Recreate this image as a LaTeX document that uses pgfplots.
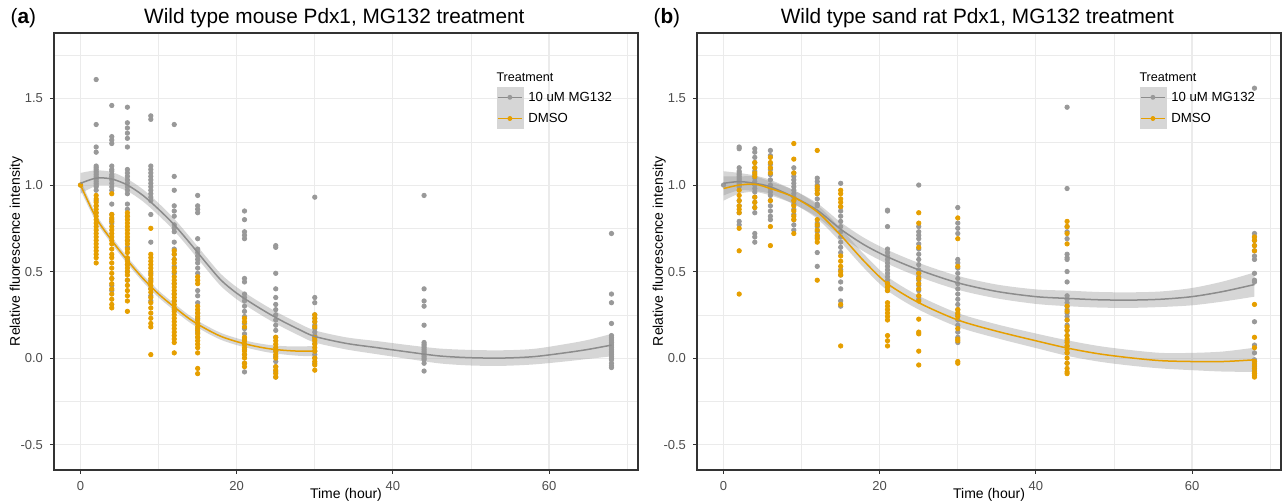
\documentclass[border=0pt]{standalone}
\usepackage{fontspec}
\setmainfont{Liberation Sans}
\usepackage{pgfplots}
\usepackage{pgfplotstable}
\pgfplotsset{compat=1.18}
\usepgfplotslibrary{fillbetween}

\definecolor{mgpt}{HTML}{999999}
\definecolor{mgline}{HTML}{8C8C8C}
\definecolor{dmso}{HTML}{E69F00}
\definecolor{gridc}{HTML}{EBEBEB}
\definecolor{framec}{HTML}{333333}
\definecolor{tickc}{HTML}{4D4D4D}
\definecolor{keybg}{HTML}{D6D6D6}

% smoothed fits with confidence band
\pgfplotstableread{
t m lo hi
0 1.01 0.95 1.07
2 1.04 0.995 1.085
4 1.035 0.995 1.075
6 1.0 0.965 1.035
8 0.94 0.905 0.975
10 0.86 0.825 0.895
12 0.77 0.735 0.805
14 0.665 0.63 0.70
16 0.555 0.52 0.59
18 0.45 0.415 0.485
20 0.375 0.34 0.41
22 0.315 0.28 0.35
24 0.26 0.225 0.295
26 0.21 0.175 0.245
28 0.165 0.13 0.20
30 0.125 0.09 0.16
34 0.085 0.05 0.12
38 0.06 0.022 0.098
42 0.035 -0.005 0.075
46 0.012 -0.031 0.055
50 0.002 -0.043 0.047
54 0.0 -0.045 0.045
58 0.008 -0.037 0.053
62 0.03 -0.02 0.08
65 0.05 -0.005 0.105
68 0.075 0.01 0.14
}\fitAmg
\pgfplotstableread{
t m lo hi
0 1.0 0.97 1.03
2 0.81 0.788 0.832
4 0.68 0.66 0.70
6 0.565 0.545 0.585
8 0.46 0.44 0.48
10 0.37 0.35 0.39
12 0.295 0.275 0.315
14 0.225 0.205 0.245
16 0.17 0.15 0.19
18 0.125 0.105 0.145
20 0.095 0.075 0.115
22 0.072 0.052 0.092
24 0.055 0.033 0.077
26 0.045 0.021 0.069
28 0.04 0.013 0.067
30 0.04 0.01 0.07
}\fitAdm
\pgfplotstableread{
t m lo hi
0 1.01 0.94 1.08
2 1.02 0.97 1.07
4 1.01 0.965 1.055
6 0.99 0.95 1.03
9 0.93 0.89 0.97
12 0.855 0.815 0.895
15 0.745 0.705 0.785
18 0.655 0.615 0.695
21 0.585 0.545 0.625
25 0.51 0.47 0.55
30 0.435 0.395 0.475
35 0.385 0.345 0.425
40 0.355 0.313 0.397
44 0.345 0.30 0.39
48 0.337 0.292 0.382
52 0.335 0.29 0.38
56 0.34 0.295 0.385
60 0.355 0.305 0.405
64 0.385 0.327 0.443
68 0.425 0.355 0.495
}\fitBmg
\pgfplotstableread{
t m lo hi
0 0.98 0.91 1.05
2 1.0 0.95 1.05
4 1.005 0.96 1.05
6 0.98 0.94 1.02
9 0.93 0.89 0.97
12 0.845 0.805 0.885
15 0.71 0.67 0.75
18 0.56 0.52 0.60
21 0.43 0.39 0.47
25 0.32 0.28 0.36
30 0.22 0.18 0.26
35 0.155 0.115 0.195
40 0.10 0.058 0.142
44 0.058 0.013 0.103
48 0.025 -0.02 0.07
52 0.002 -0.043 0.047
56 -0.015 -0.06 0.03
60 -0.02 -0.07 0.03
64 -0.02 -0.078 0.038
68 -0.01 -0.08 0.06
}\fitBdm

\pgfplotsset{
  ggpanel/.style={
    width=292pt, height=218.5pt, scale only axis, clip mode=individual,
    xmin=-3.4, xmax=71.4, ymin=-0.647, ymax=1.879,
    xtick={0,20,40,60}, xticklabels={0,20,40,60},
    ytick={-0.5,0,0.5,1,1.5}, yticklabels={-0.5,0.0,0.5,1.0,1.5},
    minor xtick={10,30,50,70}, minor ytick={-0.25,0.25,0.75,1.25,1.75},
    grid=both,
    major grid style={gridc, line width=0.55pt},
    minor grid style={gridc, line width=0.3pt},
    axis line style={framec, line width=0.55pt},
    tick style={framec, line width=0.5pt},
    major tick length=2pt, minor tick length=0pt,
    tick align=outside, xtick pos=bottom, ytick pos=left,
    ticklabel style={font=\fontsize{6.5}{7}\selectfont, text=tickc},
    label style={font=\fontsize{7}{8}\selectfont},
    xlabel={Time (hour)}, ylabel={Relative fluorescence intensity},
    xlabel style={at={(0.5,0)}, anchor=base, yshift=-14.5pt},
    ylabel shift=-8pt,
    title style={font=\fontsize{10.4}{12}\selectfont, at={(0.48,1)}, anchor=base, yshift=-1.5pt},
    legend cell align=left,
    legend style={at={(0.757,0.878)}, anchor=north west, draw=none, fill=none,
      font=\fontsize{6.6}{8}\selectfont, row sep=0pt, inner sep=0pt,
      nodes={inner sep=1pt, text height=6pt, text depth=2pt},
      /tikz/every odd column/.append style={column sep=1.5pt}},
  },
  mgpts/.style={only marks, mark=*, mark size=1.1pt, mgpt, forget plot},
  dmpts/.style={only marks, mark=*, mark size=1.1pt, dmso, forget plot},
  band/.style={fill=mgpt, fill opacity=0.4, draw=none, forget plot},
  mgkey/.style={legend image code/.code={
      \fill[keybg] (0pt,-5.1pt) rectangle (13pt,5.1pt);
      \draw[mgline, line width=0.7pt] (0.5pt,0pt) -- (12.5pt,0pt);
      \fill[mgpt] (6.5pt,0pt) circle (1pt);}},
  dmkey/.style={legend image code/.code={
      \fill[keybg] (0pt,-5.1pt) rectangle (13pt,5.1pt);
      \draw[dmso, line width=0.7pt] (0.5pt,0pt) -- (12.5pt,0pt);
      \fill[dmso] (6.5pt,0pt) circle (1pt);}},
}

\begin{document}
\begin{tikzpicture}

% ---------------- (a) mouse ----------------
\begin{axis}[ggpanel, at={(0pt,0pt)}, title={Wild type mouse Pdx1, MG132 treatment}]
\addplot[mgpts] coordinates {
(0,1.0)
(2,1.61)(2,1.35)(2,1.22)(2,1.19)(2,1.11)(2,1.10)(2,1.09)(2,1.08)(2,1.07)(2,1.06)(2,1.05)(2,1.04)(2,1.03)(2,1.02)(2,1.01)(2,1.00)(2,0.99)(2,0.97)(2,0.91)(2,0.88)(2,0.84)
(4,1.46)(4,1.28)(4,1.26)(4,1.24)(4,1.11)(4,1.09)(4,1.08)(4,1.06)(4,1.05)(4,1.04)(4,1.03)(4,1.01)(4,0.99)(4,0.97)(4,0.89)(4,0.83)(4,0.80)(4,0.78)(4,0.46)(4,0.42)(4,0.39)
(6,1.45)(6,1.36)(6,1.33)(6,1.30)(6,1.27)(6,1.22)(6,1.09)(6,1.07)(6,1.05)(6,1.03)(6,1.01)(6,0.99)(6,0.97)(6,0.95)(6,0.89)(6,0.86)(6,0.82)(6,0.68)(6,0.64)(6,0.57)(6,0.54)(6,0.50)(6,0.45)
(9,1.40)(9,1.38)(9,1.11)(9,1.09)(9,1.07)(9,1.05)(9,1.03)(9,1.01)(9,0.99)(9,0.97)(9,0.95)(9,0.93)(9,0.91)(9,0.83)(9,0.67)(9,0.49)(9,0.45)(9,0.40)(9,0.36)(9,0.33)
(12,1.35)(12,1.05)(12,0.97)(12,0.88)(12,0.85)(12,0.82)(12,0.77)(12,0.75)(12,0.73)(12,0.67)(12,0.63)(12,0.60)(12,0.57)(12,0.53)(12,0.49)(12,0.43)(12,0.37)(12,0.33)(12,0.28)
(15,0.94)(15,0.88)(15,0.86)(15,0.84)(15,0.69)(15,0.63)(15,0.61)(15,0.59)(15,0.57)(15,0.55)(15,0.52)(15,0.49)(15,0.39)(15,0.36)(15,0.32)(15,0.26)(15,0.23)(15,0.20)(15,0.17)(15,0.15)(15,0.12)
(21,0.85)(21,0.80)(21,0.73)(21,0.71)(21,0.69)(21,0.46)(21,0.44)(21,0.37)(21,0.35)(21,0.33)(21,0.30)(21,0.27)(21,0.24)(21,0.20)(21,0.17)(21,0.14)(21,0.11)(21,0.08)(21,0.05)(21,0.02)(21,-0.03)(21,-0.08)
(25,0.65)(25,0.64)(25,0.49)(25,0.40)(25,0.35)(25,0.31)(25,0.28)(25,0.25)(25,0.22)(25,0.19)(25,0.16)(25,0.12)(25,0.04)(25,0.01)(25,-0.02)(25,-0.05)(25,-0.08)(25,-0.11)
(30,0.93)(30,0.35)(30,0.32)(30,0.25)(30,0.23)(30,0.21)(30,0.19)(30,0.17)(30,0.15)(30,0.13)(30,0.11)(30,0.085)(30,0.04)(30,0.02)(30,0.0)(30,-0.03)
(44,0.94)(44,0.40)(44,0.33)(44,0.30)(44,0.19)(44,0.09)(44,0.08)(44,0.07)(44,0.06)(44,0.05)(44,0.04)(44,0.03)(44,0.02)(44,0.01)(44,0.0)(44,-0.01)(44,-0.03)(44,-0.075)
(68,0.72)(68,0.37)(68,0.32)(68,0.20)(68,0.13)(68,0.12)(68,0.11)(68,0.10)(68,0.09)(68,0.08)(68,0.07)(68,0.06)(68,0.05)(68,0.04)(68,0.03)(68,0.02)(68,0.01)(68,0.0)(68,-0.01)(68,-0.03)(68,-0.045)(68,-0.055)
};
\addplot[dmpts] coordinates {
(0,1.0)
(2,0.94)(2,0.92)(2,0.90)(2,0.88)(2,0.86)(2,0.84)(2,0.82)(2,0.80)(2,0.78)(2,0.76)(2,0.74)(2,0.72)(2,0.70)(2,0.68)(2,0.66)(2,0.64)(2,0.62)(2,0.60)(2,0.58)(2,0.55)
(4,0.95)(4,0.83)(4,0.81)(4,0.79)(4,0.76)(4,0.74)(4,0.72)(4,0.70)(4,0.68)(4,0.66)(4,0.63)(4,0.60)(4,0.58)(4,0.55)(4,0.52)(4,0.49)(4,0.46)(4,0.43)(4,0.40)(4,0.37)(4,0.34)(4,0.31)(4,0.29)
(6,0.84)(6,0.82)(6,0.80)(6,0.78)(6,0.76)(6,0.74)(6,0.72)(6,0.70)(6,0.68)(6,0.66)(6,0.63)(6,0.61)(6,0.58)(6,0.56)(6,0.54)(6,0.52)(6,0.50)(6,0.48)(6,0.45)(6,0.42)(6,0.39)(6,0.36)(6,0.33)(6,0.27)
(9,0.75)(9,0.60)(9,0.58)(9,0.56)(9,0.54)(9,0.52)(9,0.50)(9,0.48)(9,0.46)(9,0.44)(9,0.42)(9,0.40)(9,0.38)(9,0.35)(9,0.32)(9,0.29)(9,0.26)(9,0.23)(9,0.20)(9,0.18)(9,0.02)
(12,0.62)(12,0.60)(12,0.57)(12,0.55)(12,0.52)(12,0.50)(12,0.47)(12,0.45)(12,0.43)(12,0.41)(12,0.39)(12,0.37)(12,0.35)(12,0.33)(12,0.31)(12,0.29)(12,0.27)(12,0.25)(12,0.23)(12,0.21)(12,0.19)(12,0.17)(12,0.15)(12,0.13)(12,0.11)(12,0.09)(12,0.03)
(15,0.47)(15,0.45)(15,0.43)(15,0.30)(15,0.28)(15,0.26)(15,0.24)(15,0.22)(15,0.20)(15,0.18)(15,0.16)(15,0.14)(15,0.12)(15,0.10)(15,0.08)(15,0.06)(15,0.03)(15,-0.06)(15,-0.09)
(21,0.23)(21,0.21)(21,0.18)(21,0.12)(21,0.10)(21,0.08)(21,0.06)(21,0.04)(21,0.02)(21,0.0)(21,-0.03)(21,-0.05)
(25,0.12)(25,0.10)(25,0.08)(25,0.06)(25,0.04)(25,0.02)(25,0.0)(25,-0.05)(25,-0.07)(25,-0.09)(25,-0.11)
(30,0.25)(30,0.23)(30,0.21)(30,0.18)(30,0.12)(30,0.10)(30,0.08)(30,0.06)(30,0.04)(30,0.0)(30,-0.02)(30,-0.04)(30,-0.07)
};
\addplot[draw=none, smooth, name path=aMu, forget plot] table[x=t, y=hi] {\fitAmg};
\addplot[draw=none, smooth, name path=aMl, forget plot] table[x=t, y=lo] {\fitAmg};
\addplot[band] fill between[of=aMu and aMl];
\addplot[mgline, line width=0.75pt, smooth, forget plot] table[x=t, y=m] {\fitAmg};
\addplot[draw=none, smooth, name path=aDu, forget plot] table[x=t, y=hi] {\fitAdm};
\addplot[draw=none, smooth, name path=aDl, forget plot] table[x=t, y=lo] {\fitAdm};
\addplot[band] fill between[of=aDu and aDl];
\addplot[dmso, line width=0.75pt, smooth, forget plot] table[x=t, y=m] {\fitAdm};
\addlegendimage{mgkey}\addlegendentry{10 uM MG132}
\addlegendimage{dmkey}\addlegendentry{DMSO}
\node[anchor=west, inner sep=0pt, font=\fontsize{6.3}{7}\selectfont] at (axis description cs:0.757,0.899) {Treatment};
\node[anchor=base west, inner sep=0pt, font=\fontsize{10.4}{12}\selectfont] at (axis description cs:-0.075,1) [yshift=4.5pt] {(\textbf{a})};
\end{axis}

% ---------------- (b) sand rat ----------------
\begin{axis}[ggpanel, at={(321.5pt,0pt)}, title={Wild type sand rat Pdx1, MG132 treatment}]
\addplot[mgpts] coordinates {
(0,1.0)
(2,1.22)(2,1.21)(2,1.10)(2,1.08)(2,1.07)(2,1.06)(2,1.05)(2,1.04)(2,1.03)(2,1.02)(2,1.01)(2,1.00)(2,0.99)(2,0.91)(2,0.88)(2,0.84)(2,0.79)(2,0.77)
(4,1.21)(4,1.19)(4,1.16)(4,1.13)(4,1.10)(4,1.08)(4,1.06)(4,1.04)(4,1.02)(4,1.00)(4,0.98)(4,0.96)(4,0.93)(4,0.90)(4,0.87)(4,0.84)(4,0.72)(4,0.70)(4,0.67)
(6,1.20)(6,1.17)(6,1.12)(6,1.09)(6,1.06)(6,1.03)(6,1.00)(6,0.98)(6,0.96)(6,0.94)(6,0.91)(6,0.88)(6,0.85)(6,0.82)(6,0.80)
(9,1.10)(9,1.07)(9,1.05)(9,1.03)(9,1.01)(9,0.99)(9,0.97)(9,0.95)(9,0.93)(9,0.91)(9,0.89)(9,0.86)(9,0.83)(9,0.80)(9,0.77)(9,0.74)
(12,1.04)(12,1.02)(12,1.00)(12,0.98)(12,0.95)(12,0.92)(12,0.89)(12,0.88)(12,0.78)(12,0.76)(12,0.73)(12,0.70)(12,0.61)(12,0.53)
(15,1.01)(15,0.875)(15,0.85)(15,0.82)(15,0.79)(15,0.76)(15,0.73)(15,0.70)(15,0.67)(15,0.64)(15,0.61)(15,0.51)(15,0.48)(15,0.44)(15,0.40)(15,0.33)(15,0.30)
(21,0.855)(21,0.85)(21,0.76)(21,0.63)(21,0.61)(21,0.59)(21,0.57)(21,0.55)(21,0.53)(21,0.51)(21,0.49)(21,0.47)(21,0.45)(21,0.43)(21,0.41)(21,0.39)
(25,1.0)(25,0.76)(25,0.73)(25,0.71)(25,0.69)(25,0.66)(25,0.63)(25,0.60)(25,0.57)(25,0.54)(25,0.51)(25,0.49)(25,0.47)(25,0.45)(25,0.42)(25,0.39)(25,0.36)(25,0.34)
(30,0.87)(30,0.78)(30,0.75)(30,0.72)(30,0.57)(30,0.55)(30,0.52)(30,0.49)(30,0.46)(30,0.43)(30,0.40)(30,0.37)(30,0.34)(30,0.31)(30,0.28)(30,0.25)(30,0.22)(30,0.19)(30,0.15)(30,0.12)(30,0.09)
(44,1.45)(44,0.98)(44,0.76)(44,0.73)(44,0.69)(44,0.60)(44,0.58)(44,0.57)(44,0.50)(44,0.44)(44,0.36)(44,0.34)(44,0.32)(44,0.30)(44,0.28)(44,0.26)(44,0.24)(44,0.22)(44,0.19)(44,0.16)(44,0.13)(44,0.10)(44,0.07)(44,0.03)(44,-0.03)
(68,1.56)(68,0.72)(68,0.70)(68,0.68)(68,0.65)(68,0.62)(68,0.59)(68,0.57)(68,0.49)(68,0.45)(68,0.44)(68,0.21)(68,0.075)(68,0.03)(68,-0.01)(68,-0.03)(68,-0.05)(68,-0.07)(68,-0.09)
};
\addplot[dmpts] coordinates {
(2,0.97)(2,0.94)(2,0.91)(2,0.88)(2,0.86)(2,0.84)(2,0.75)(2,0.62)(2,0.37)
(4,1.13)(4,1.10)(4,1.07)(4,1.05)(4,0.93)(4,0.90)(4,0.87)
(6,1.16)(6,1.13)(6,1.10)(6,1.07)(6,0.91)(6,0.76)(6,0.65)
(9,1.24)(9,1.15)(9,1.07)(9,0.91)(9,0.88)(9,0.85)(9,0.82)(9,0.80)(9,0.72)
(12,1.20)(12,0.99)(12,0.97)(12,0.95)(12,0.80)(12,0.77)(12,0.74)(12,0.71)(12,0.69)(12,0.67)(12,0.45)
(15,0.97)(15,0.95)(15,0.92)(15,0.90)(15,0.875)(15,0.59)(15,0.56)(15,0.53)(15,0.50)(15,0.48)(15,0.31)(15,0.07)
(21,0.43)(21,0.41)(21,0.39)(21,0.32)(21,0.30)(21,0.28)(21,0.26)(21,0.24)(21,0.22)(21,0.13)(21,0.10)(21,0.07)
(25,0.84)(25,0.78)(25,0.64)(25,0.49)(25,0.46)(25,0.43)(25,0.40)(25,0.36)(25,0.33)(25,0.225)(25,0.15)(25,0.14)(25,0.04)(25,-0.04)
(30,0.81)(30,0.69)(30,0.53)(30,0.28)(30,0.26)(30,0.24)(30,0.17)(30,0.11)(30,0.10)(30,-0.02)(30,-0.03)
(44,0.79)(44,0.76)(44,0.72)(44,0.66)(44,0.30)(44,0.27)(44,0.22)(44,0.18)(44,0.16)(44,0.13)(44,0.11)(44,0.09)(44,0.07)(44,0.05)(44,0.03)(44,0.0)(44,-0.03)(44,-0.06)(44,-0.08)(44,-0.09)
(68,0.70)(68,0.68)(68,0.65)(68,0.62)(68,0.31)(68,0.12)(68,0.06)(68,-0.02)(68,-0.04)(68,-0.06)(68,-0.08)(68,-0.09)(68,-0.10)(68,-0.11)
};
\addplot[draw=none, smooth, name path=bMu, forget plot] table[x=t, y=hi] {\fitBmg};
\addplot[draw=none, smooth, name path=bMl, forget plot] table[x=t, y=lo] {\fitBmg};
\addplot[band] fill between[of=bMu and bMl];
\addplot[mgline, line width=0.75pt, smooth, forget plot] table[x=t, y=m] {\fitBmg};
\addplot[draw=none, smooth, name path=bDu, forget plot] table[x=t, y=hi] {\fitBdm};
\addplot[draw=none, smooth, name path=bDl, forget plot] table[x=t, y=lo] {\fitBdm};
\addplot[band] fill between[of=bDu and bDl];
\addplot[dmso, line width=0.75pt, smooth, forget plot] table[x=t, y=m] {\fitBdm};
\addlegendimage{mgkey}\addlegendentry{10 uM MG132}
\addlegendimage{dmkey}\addlegendentry{DMSO}
\node[anchor=west, inner sep=0pt, font=\fontsize{6.3}{7}\selectfont] at (axis description cs:0.757,0.899) {Treatment};
\node[anchor=base west, inner sep=0pt, font=\fontsize{10.4}{12}\selectfont] at (axis description cs:-0.075,1) [yshift=4.5pt] {(\textbf{b})};
\end{axis}

\pgfresetboundingbox
\path[use as bounding box] (-27pt,-16pt) rectangle (614.5pt,235pt);
\end{tikzpicture}
\end{document}
